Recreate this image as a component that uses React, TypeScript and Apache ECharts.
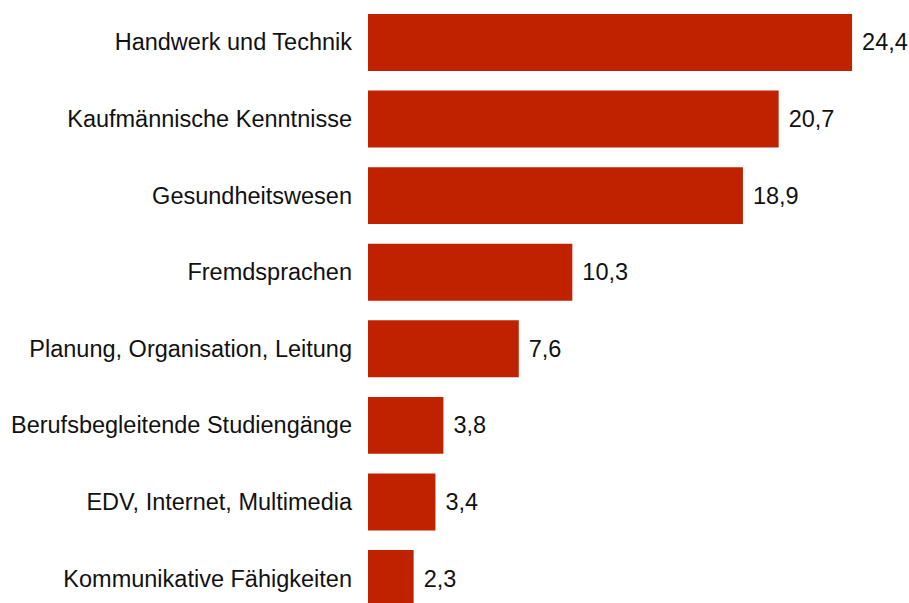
import React, { useEffect, useRef } from "react";
import * as echarts from "echarts";

const categories = [
  "Handwerk und Technik",
  "Kaufmännische Kenntnisse",
  "Gesundheitswesen",
  "Fremdsprachen",
  "Planung, Organisation, Leitung",
  "Berufsbegleitende Studiengänge",
  "EDV, Internet, Multimedia",
  "Kommunikative Fähigkeiten",
];
const values = [24.4, 20.7, 18.9, 10.3, 7.6, 3.8, 3.4, 2.3];

export default function App() {
  const ref = useRef<HTMLDivElement>(null);
  useEffect(() => {
    if (!ref.current) return;
    const chart = echarts.init(ref.current, null, { renderer: "svg" });
    const font = "Arial, Liberation Sans, sans-serif";
    chart.setOption({
      animation: false,
      grid: { left: 368, top: 4.2, width: 515.8, height: 612.6, containLabel: false },
      xAxis: {
        type: "value",
        min: 0,
        max: 26,
        show: false,
        splitLine: { show: false },
      },
      yAxis: {
        type: "category",
        data: categories,
        inverse: true,
        axisLine: { show: false },
        axisTick: { show: false },
        axisLabel: {
          color: "#111111",
          fontSize: 23.5,
          fontFamily: font,
          margin: 16,
        },
      },
      series: [
        {
          type: "bar",
          data: values,
          barCategoryGap: "25.6%",
          itemStyle: { color: "#c02200" },
          label: {
            show: true,
            position: "right",
            distance: 10,
            color: "#111111",
            fontSize: 23.5,
            fontFamily: font,
            formatter: (p: any) => String(p.value.toFixed(1)).replace(".", ","),
          },
        },
      ],
    });
    return () => chart.dispose();
  }, []);
  return (
    <div
      ref={ref}
      style={{ position: "absolute", left: 0, top: 0, width: 909, height: 620 }}
    />
  );
}
